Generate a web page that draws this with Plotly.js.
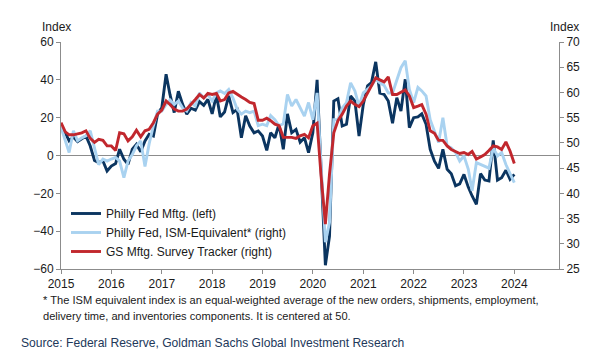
<!DOCTYPE html>
<html>
<head>
<meta charset="utf-8">
<script src="https://cdn.plot.ly/plotly-3.0.1.min.js"></script>
<style>
  html, body { margin: 0; padding: 0; background: #fff; }
  #chart { width: 610px; height: 362px; }
</style>
</head>
<body>
<div id="chart"></div>
<script>
// Monthly observations, Jan 2015 .. Jan 2024
const startYear = 2015;
const startMonth = 1;

const phillyFed = [
  13.8, 12, 7.7, 9.8, 7.3, 9, 10.3, 5, -2.6, -3.8, -2.9, -8.2,
  -5.6, -4.3, 3.3, -2, -4.7, 3.3, 5.9, 2, 7.7, 11.2, 10.3, 21.8,
  25.3, 43, 32.3, 22.7, 34, 27, 21.8, 25, 24, 28.5, 26.5, 29.7,
  22, 32, 20.4, 23, 31.5, 22.7, 24.4, 9.4, 21, 15.6, 12, 13,
  10.3, 2.7, 12, 9.4, 16.5, 3.3, 22, 12, 13.8, 7, 9.4, 1.5,
  12, 40, -12, -58, -42.6, 28.8, 30, 15.6, 16.5, 31.5, 28.8, 10.3,
  27, 36.8, 38.5, 49.5, 33, 32.3, 28.8, 17, 30.6, 23.5, 40.3, 14.7,
  20, 20.4, 22, 16.5, 3.3, -3, -6.8, 3.3, -7.3, -9.6, -16, -15,
  -10, -16.7, -21.4, -25.8, -9.6, -13, -13.5, 8, -13, -11.7, -7.8, -12.6,
  -10
];

const ismEquivalent = [
  53.1, 50.4, 48.1, 52.4, 50.4, 51.0, 51.4, 52.4, 48.7, 45.7, 46.8, 46.4,
  46.8, 47.1, 46.4, 43.1, 46.4, 47.7, 49.4, 50.4, 45.3, 49.8, 53.4, 56.3,
  56.3, 57.6, 58.5, 57.6, 58.3, 56.9, 56.3, 58.0, 57.3, 59.9, 58.9, 59.6,
  58.3, 59.9, 60.3, 59.8, 60.6, 58.9, 56.7, 55.7, 56.3, 56.0, 56.3, 53.4,
  53.7, 53.4, 55.4, 54.6, 53.4, 53.8, 59.6, 57.3, 58.6, 56.9, 55.3, 58.0,
  54.6, 59.9, 44.9, 30.3, 34.2, 54.6, 54.6, 56.9, 58.0, 61.9, 60.3, 57.3,
  59.9, 60.6, 61.3, 62.6, 61.9, 61.4, 59.9, 59.9, 62.5, 64.9, 66.3, 60.6,
  58.0, 61.0, 60.3, 59.3, 54.6, 52.4, 50.1, 55.0, 49.4, 49.0, 48.1, 46.4,
  47.4, 44.8, 40.5, 46.1, 45.7, 45.4, 45.0, 49.0, 47.4, 48.1, 45.7, 43.9,
  42.1
];

const gsTracker = [
  54.0, 52.2, 51.6, 51.6, 51.8, 52.0, 52.4, 50.9, 50.1, 50.7, 50.5, 49.4,
  49.4, 48.5, 52.0, 51.8, 50.4, 51.2, 52.5, 51.2, 52.4, 52.7, 54.0, 55.7,
  56.5, 58.3, 57.6, 56.7, 56.3, 56.3, 56.7, 57.6, 58.6, 59.6, 58.9, 59.8,
  59.6, 59.8, 58.3, 58.6, 59.9, 60.2, 59.6, 59.1, 58.6, 58.0, 57.8, 54.5,
  54.5, 54.9, 54.4, 53.7, 53.4, 51.1, 51.1, 51.1, 50.9, 51.4, 51.7, 51.0,
  53.4, 53.9, 43.4, 33.9, 43.8, 52.0, 54.4, 55.7, 57.3, 58.3, 57.6, 57.2,
  58.3, 59.9, 61.4, 62.9, 62.5, 62.1, 63.1, 59.6, 59.6, 60.1, 60.5, 59.3,
  57.0, 57.3, 57.6, 55.7, 52.4, 51.9, 50.5, 50.5, 49.4, 48.7, 48.3, 47.9,
  48.1, 47.7, 48.3, 46.8, 47.2, 47.7, 48.5, 49.4, 49.2, 48.7, 50.2, 48.4,
  45.9
];

const seriesNames = [
  "Philly Fed Mftg. (left)",
  "Philly Fed, ISM-Equivalent* (right)",
  "GS Mftg. Survey Tracker (right)"
];
const leftTicks = [60, 40, 20, 0, -20, -40, -60];
const rightTicks = [70, 65, 60, 55, 50, 45, 40, 35, 30, 25];
const footnote1 = "* The ISM equivalent index is an equal-weighted average of the new orders, shipments, employment,";
const footnote2 = "delivery time, and inventories components. It is centered at 50.";
const sourceText = "Source: Federal Reserve, Goldman Sachs Global Investment Research";

function monthDates(n) {
  const out = [];
  for (let i = 0; i < n; i++) {
    const y = startYear + Math.floor((startMonth - 1 + i) / 12);
    const m = ((startMonth - 1 + i) % 12) + 1;
    out.push(y + "-" + String(m).padStart(2, "0") + "-01");
  }
  return out;
}
const dates = monthDates(phillyFed.length);

const NAVY = "#0b3560";
const LIGHT = "#a9d2f0";
const RED = "#c1272d";
const AXIS = "#8c8c8c";
const FONT = "Liberation Sans, Arial, sans-serif";

const traces = [
  { x: dates, y: ismEquivalent, yaxis: "y2", type: "scatter", mode: "lines",
    name: seriesNames[1], legendrank: 2, line: { color: LIGHT, width: 2.9 } },
  { x: dates, y: phillyFed, yaxis: "y", type: "scatter", mode: "lines",
    name: seriesNames[0], legendrank: 1, line: { color: NAVY, width: 2.9 } },
  { x: dates, y: gsTracker, yaxis: "y2", type: "scatter", mode: "lines",
    name: seriesNames[2], legendrank: 3, line: { color: RED, width: 2.9 } }
];

const plotW = 610 - 61 - 51;
const plotH = 362 - 42 - 93;
function px(x) { return (x - 61) / plotW; }
function py(y) { return (269 - y) / plotH; }

const layout = {
  width: 610, height: 362,
  margin: { l: 61, r: 51, t: 42, b: 93, pad: 0 },
  paper_bgcolor: "#fff", plot_bgcolor: "#fff",
  font: { family: FONT, size: 12, color: "#1a1a1a" },
  showlegend: true,
  legend: {
    x: px(66), y: py(199), xanchor: "left", yanchor: "top",
    bgcolor: "rgba(0,0,0,0)", borderwidth: 0,
    font: { family: FONT, size: 12, color: "#1a1a1a" },
    tracegroupgap: 0, itemwidth: 30
  },
  xaxis: {
    type: "date",
    range: ["2015-01-01", "2024-11-20"],
    tickmode: "linear", tick0: "2015-01-01", dtick: "M12",
    tickformat: "%Y",
    showgrid: false, zeroline: false,
    showline: true, linecolor: AXIS, linewidth: 1,
    ticks: "outside", ticklen: 4, tickcolor: AXIS,
    tickfont: { family: FONT, size: 12, color: "#1a1a1a" },
    fixedrange: true
  },
  yaxis: {
    range: [-60, 60],
    tickmode: "array", tickvals: leftTicks,
    showgrid: false,
    zeroline: true, zerolinecolor: AXIS, zerolinewidth: 1,
    showline: true, linecolor: AXIS, linewidth: 1,
    ticks: "outside", ticklen: 4, tickcolor: AXIS,
    tickfont: { family: FONT, size: 12, color: "#1a1a1a" },
    fixedrange: true
  },
  yaxis2: {
    range: [25, 70],
    overlaying: "y", side: "right",
    tickmode: "array", tickvals: rightTicks,
    showgrid: false, zeroline: false,
    showline: true, linecolor: AXIS, linewidth: 1,
    ticks: "outside", ticklen: 4, tickcolor: AXIS,
    tickfont: { family: FONT, size: 12, color: "#1a1a1a" },
    fixedrange: true
  },
  annotations: [
    { text: "Index", xref: "paper", yref: "paper", x: px(40), y: py(27),
      xanchor: "left", yanchor: "middle", showarrow: false,
      font: { family: FONT, size: 12, color: "#1a1a1a" } },
    { text: "Index", xref: "paper", yref: "paper", x: px(581), y: py(27),
      xanchor: "right", yanchor: "middle", showarrow: false,
      font: { family: FONT, size: 12, color: "#1a1a1a" } },
    { text: footnote1, xref: "paper", yref: "paper", x: px(41), y: py(300),
      xanchor: "left", yanchor: "middle", showarrow: false,
      font: { family: FONT, size: 11.1, color: "#1a1a1a" } },
    { text: footnote2, xref: "paper", yref: "paper", x: px(41), y: py(316),
      xanchor: "left", yanchor: "middle", showarrow: false,
      font: { family: FONT, size: 11.1, color: "#1a1a1a" } },
    { text: sourceText, xref: "paper", yref: "paper", x: px(19), y: py(343),
      xanchor: "left", yanchor: "middle", showarrow: false,
      font: { family: FONT, size: 12.1, color: "#22385a" } }
  ]
};

Plotly.newPlot("chart", traces, layout, { displayModeBar: false, staticPlot: true });
</script>
</body>
</html>
